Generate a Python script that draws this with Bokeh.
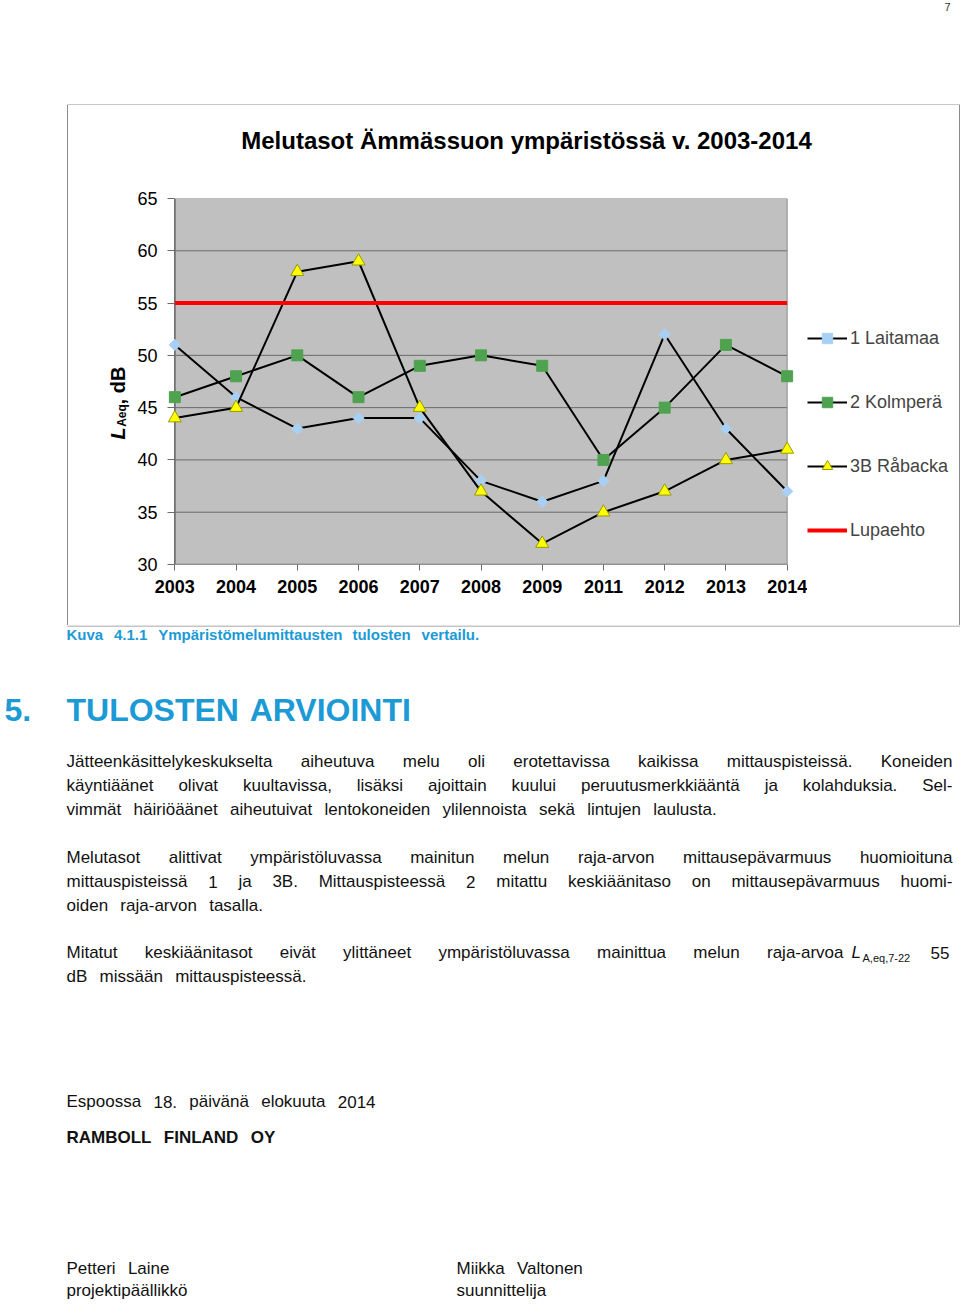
import math
from bokeh.plotting import figure
from bokeh.models import (Range1d, FixedTicker, Legend, LegendItem,
                          ColumnDataSource, Spacer)
from bokeh.layouts import column, row
from bokeh.core.properties import value
from bokeh.embed import file_html
from bokeh.resources import INLINE

# ---------------- data ----------------
years = ["2003", "2004", "2005", "2006", "2007", "2008", "2009", "2011", "2012", "2013", "2014"]
laitamaa = [51, 46, 43, 44, 44, 38, 36, 38, 52, 43, 37]
kolmpera = [46, 48, 50, 46, 49, 50, 49, 40, 45, 51, 48]
rabacka = [44, 45, 58, 59, 45, 37, 32, 35, 37, 40, 41]
lupaehto = [55, 55, 55, 55, 55, 55, 55, 55, 55, 55, 55]
y_ticks = [30, 35, 40, 45, 50, 55, 60, 65]
series_names = ["1 Laitamaa", "2 Kolmperä", "3B Råbacka", "Lupaehto"]

FONT = "Liberation Sans"
BLUE = "#1b9ad6"
INK = "#111111"
BOX = "#8c8c8c"

xs = list(range(len(years)))
xmax = len(years) - 1
ymin, ymax = min(y_ticks), max(y_ticks)
PAD = 0.12

STY = {
    "lait_m": dict(marker="square", angle=math.pi / 4, size=8, fill_color="#a8d0f4", line_color="#a8d0f4"),
    "kolm_m": dict(marker="square", size=11, fill_color="#4fa24f", line_color="#4fa24f"),
    "raba_m": dict(marker="triangle", size=13, fill_color="#ffff00", line_color="#9a9a00", line_width=1),
}


def blank(w, h, xr, yr):
    f = figure(width=w, height=h, x_range=Range1d(*xr), y_range=Range1d(*yr),
               x_axis_type=None, y_axis_type=None, output_backend="svg",
               toolbar_location=None, min_border=0)
    f.outline_line_color = None
    f.background_fill_color = "white"
    f.border_fill_color = "white"
    return f


def vline(h):
    return Spacer(width=1, height=h, styles={"background-color": BOX})


def draw_series(fig):
    r = []
    r.append(fig.line(xs, laitamaa, line_color="black", line_width=2))
    r.append(fig.scatter(xs, laitamaa, **STY["lait_m"]))
    r.append(fig.line(xs, kolmpera, line_color="black", line_width=2))
    r.append(fig.scatter(xs, kolmpera, **STY["kolm_m"]))
    r.append(fig.line(xs, rabacka, line_color="black", line_width=2))
    r.append(fig.scatter(xs, rabacka, **STY["raba_m"]))
    r.append(fig.line(xs, lupaehto, line_color="#ff0000", line_width=4))
    return r


# ---------------- chart (page x 130..807, y 175..625; frame 167..794 x 198..564) ----------------
chart = figure(width=677, height=450,
               x_range=Range1d(-PAD, xmax + PAD), y_range=Range1d(ymin, ymax),
               output_backend="svg", toolbar_location=None,
               min_border_left=37, min_border_right=13,
               min_border_top=23, min_border_bottom=61)
chart.background_fill_color = "white"
chart.border_fill_color = "white"
chart.outline_line_color = None

chart.quad(left=[0], right=[xmax], bottom=[ymin], top=[ymax],
           fill_color="#c0c0c0", line_color=BOX, line_width=1)
inner = y_ticks[1:-1]
chart.segment(x0=[0] * len(inner), x1=[xmax] * len(inner), y0=inner, y1=inner,
              line_color="#6a6a6a", line_width=1)
chart.segment(x0=[0, 0], x1=[0, xmax], y0=[ymin, ymin], y1=[ymax, ymin],
              line_color="#6a6a6a", line_width=1.5)

chart.xgrid.grid_line_color = None
chart.ygrid.grid_line_color = None

chart.xaxis.ticker = FixedTicker(ticks=xs)
chart.xaxis.major_label_overrides = {i: y for i, y in enumerate(years)}
chart.xaxis.major_label_text_font = FONT
chart.xaxis.major_label_text_font_size = "18px"
chart.xaxis.major_label_text_font_style = "bold"
chart.xaxis.major_label_text_color = "black"
chart.xaxis.axis_line_color = None
chart.xaxis.major_tick_line_color = "#6a6a6a"
chart.xaxis.major_tick_out = 6
chart.xaxis.major_tick_in = 0
chart.xaxis.minor_tick_line_color = None
chart.xaxis.major_label_standoff = 9

chart.yaxis.ticker = FixedTicker(ticks=y_ticks)
chart.yaxis.major_label_text_font = FONT
chart.yaxis.major_label_text_font_size = "18px"
chart.yaxis.major_label_text_color = "black"
chart.yaxis.axis_line_color = None
chart.yaxis.major_tick_line_color = "#6a6a6a"
chart.yaxis.major_tick_out = 0
chart.yaxis.major_tick_in = 7
chart.yaxis.minor_tick_line_color = None
chart.yaxis.major_label_standoff = 10

draw_series(chart)

# ---------------- legend panel (frame is aligned to the chart frame: y 198..564) ----------------
# the same series are drawn here outside the visible ranges, only to feed the legend keys
leg_fig = blank(152, 450, (807, 959), (-564, -198))
rr = draw_series(leg_fig)
legend = Legend(items=[
    LegendItem(label=series_names[0], renderers=[rr[0], rr[1]]),
    LegendItem(label=series_names[1], renderers=[rr[2], rr[3]]),
    LegendItem(label=series_names[2], renderers=[rr[4], rr[5]]),
    LegendItem(label=series_names[3], renderers=[rr[6]]),
], location=(0, 21), padding=0, margin=0, spacing=38,
    glyph_width=40, glyph_height=26, label_height=20, label_standoff=3,
    label_text_font=FONT, label_text_font_size="18px",
    background_fill_alpha=0, border_line_alpha=0)
leg_fig.add_layout(legend)

# ---------------- title and y-axis label ----------------
title_fig = blank(891, 70, (68, 959), (-175, -105))
title_fig.text(x=[526], y=[-140], text=["Melutasot Ämmässuon ympäristössä v. 2003-2014"],
               text_font=value(FONT), text_font_size="24px", text_font_style="bold",
               text_color="black", text_align="center", text_baseline="middle")

left_fig = blank(62, 450, (68, 130), (-564, -198))
left_fig.text(x=[117, 121, 117], y=[-433, -415, -385], text=["L", "Aeq", ", dB"],
              angle=math.pi / 2, text_font=value(FONT),
              text_font_size=["20px", "12px", "20px"],
              text_font_style=["bold italic", "bold", "bold"],
              text_color="black", text_align="center", text_baseline="middle")

# ---------------- page text ----------------
REG = {" ": 278, ",": 278, "-": 333, ".": 278, ":": 278,
       "A": 667, "B": 667, "C": 722, "D": 722, "E": 667, "F": 611, "G": 778, "H": 722,
       "I": 278, "J": 500, "K": 667, "L": 556, "M": 833, "N": 722, "O": 778, "P": 667,
       "Q": 778, "R": 722, "S": 667, "T": 611, "U": 722, "V": 667, "W": 944, "X": 667,
       "Y": 667, "Z": 611, "a": 556, "b": 556, "c": 500, "d": 556, "e": 556, "f": 278,
       "g": 556, "h": 556, "i": 222, "j": 222, "k": 500, "l": 222, "m": 833, "n": 556,
       "o": 556, "p": 556, "q": 556, "r": 333, "s": 500, "t": 278, "u": 556, "v": 500,
       "w": 722, "x": 500, "y": 500, "z": 500}
BOLD = {" ": 278, ",": 278, "-": 333, ".": 278, ":": 333,
        "A": 722, "B": 722, "C": 722, "D": 722, "E": 667, "F": 611, "G": 778, "H": 722,
        "I": 278, "J": 556, "K": 722, "L": 611, "M": 833, "N": 722, "O": 778, "P": 667,
        "Q": 778, "R": 722, "S": 667, "T": 611, "U": 722, "V": 667, "W": 944, "X": 667,
        "Y": 667, "Z": 611, "a": 556, "b": 611, "c": 556, "d": 611, "e": 556, "f": 333,
        "g": 611, "h": 611, "i": 278, "j": 278, "k": 556, "l": 278, "m": 889, "n": 611,
        "o": 611, "p": 611, "q": 611, "r": 389, "s": 556, "t": 333, "u": 611, "v": 556,
        "w": 778, "x": 556, "y": 556, "z": 500}


def twidth(s, size, bold):
    tab = BOLD if bold else REG
    return sum(tab.get(c, 556) for c in s) * size / 1000.0


def place(src, line, x0, x1, mid, size, style, color, justify):
    words = line.split(" ")
    bold = "bold" in style
    ws = [twidth(w, size, bold) for w in words]
    sp = twidth(" ", size, bold)
    gap = sp
    if len(words) > 1:
        gap = (x1 - x0 - sum(ws)) / (len(words) - 1)
        if not justify:
            gap = max(sp, min(gap, sp * 2.6))
    x = x0
    for w, wd in zip(words, ws):
        src["x"].append(x)
        src["y"].append(-mid)
        src["text"].append(w)
        src["size"].append("%dpx" % size)
        src["style"].append(style)
        src["color"].append(color)
        x += wd + gap


body_lines = [
    ("Kuva 4.1.1 Ympäristömelumittausten tulosten vertailu.", 66, 529, 634, 15, "bold", BLUE, False),
    ("5.", 4, 32, 709, 32, "bold", BLUE, False),
    ("TULOSTEN ARVIOINTI", 66, 411, 709, 32, "bold", BLUE, True),
    ("Jätteenkäsittelykeskukselta aiheutuva melu oli erotettavissa kaikissa mittauspisteissä. Koneiden", 66, 952, 761, 17, "normal", INK, True),
    ("käyntiäänet olivat kuultavissa, lisäksi ajoittain kuului peruutusmerkkiääntä ja kolahduksia. Sel-", 66, 952, 785, 17, "normal", INK, True),
    ("vimmät häiriöäänet aiheutuivat lentokoneiden ylilennoista sekä lintujen laulusta.", 66, 794, 809, 17, "normal", INK, False),
    ("Melutasot alittivat ympäristöluvassa mainitun melun raja-arvon mittausepävarmuus huomioituna", 66, 952, 857, 17, "normal", INK, True),
    ("mittauspisteissä 1 ja 3B. Mittauspisteessä 2 mitattu keskiäänitaso on mittausepävarmuus huomi-", 66, 952, 881, 17, "normal", INK, True),
    ("oiden raja-arvon tasalla.", 66, 288, 905, 17, "normal", INK, False),
    ("Mitatut keskiäänitasot eivät ylittäneet ympäristöluvassa mainittua melun raja-arvoa", 66, 843, 952, 17, "normal", INK, True),
    ("L", 851, 860, 952, 17, "italic", INK, False),
    ("A,eq,7-22", 862, 922, 957, 11, "normal", INK, False),
    ("55", 930, 952, 952, 17, "normal", INK, False),
    ("dB missään mittauspisteessä.", 66, 334, 976, 17, "normal", INK, False),
    ("Espoossa 18. päivänä elokuuta 2014", 66, 397, 1101, 17, "normal", INK, False),
    ("RAMBOLL FINLAND OY", 66, 296, 1137, 17, "bold", INK, False),
    ("Petteri Laine", 66, 179, 1268, 17, "normal", INK, False),
    ("projektipäällikkö", 66, 215, 1290, 17, "normal", INK, False),
    ("Miikka Valtonen", 456, 598, 1268, 17, "normal", INK, False),
    ("suunnittelija", 456, 567, 1290, 17, "normal", INK, False),
]

data = {"x": [], "y": [], "text": [], "size": [], "style": [], "color": []}
for ln in body_lines:
    place(data, *ln)

body = blank(960, 679, (0, 960), (-1304, -625))
body.segment(x0=[67], x1=[960], y0=[-625.5], y1=[-625.5], line_color=BOX, line_width=1)
body.text(x="x", y="y", text="text", source=ColumnDataSource(data),
          text_font=value(FONT), text_font_size="size", text_font_style="style",
          text_color="color", text_baseline="middle", text_align="left")

header = blank(960, 105, (0, 960), (-105, 0))
header.segment(x0=[67], x1=[960], y0=[-104.5], y1=[-104.5], line_color=BOX, line_width=1)
header.text(x=[944], y=[-6], text=["7"], text_font=value(FONT), text_font_size="11px",
            text_color="#333333", text_baseline="middle")

layout = column(
    header,
    row(Spacer(width=67, height=70), vline(70), title_fig, vline(70)),
    row(Spacer(width=67, height=450), vline(450), left_fig, chart, leg_fig, vline(450)),
    body,
)

open("out.html", "w").write(file_html(layout, INLINE))
